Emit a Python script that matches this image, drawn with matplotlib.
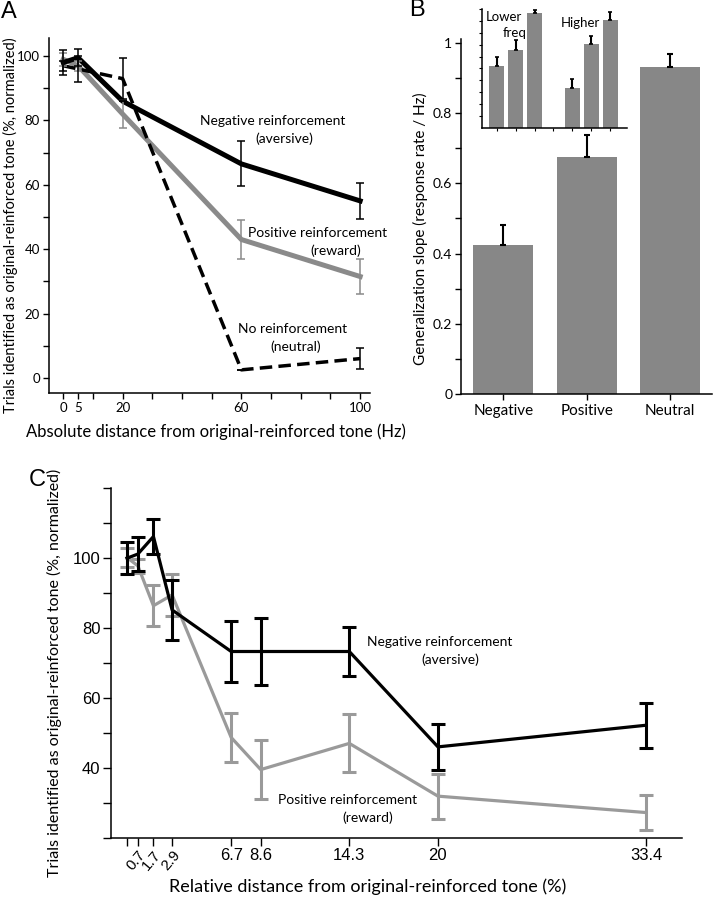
import matplotlib
matplotlib.use('Agg')
import matplotlib.pyplot as plt

plt.rcParams['font.family'] = ['Lato', 'DejaVu Sans']
plt.rcParams['axes.linewidth'] = 1.1
narrow = ['Liberation Sans Narrow', 'Liberation Sans', 'DejaVu Sans']

# panel A: absolute distance (Hz)
a_x = [0, 5, 20, 60, 100]
a_neg = [98, 99.5, 86, 66.5, 55]
a_neg_err = [4, 2.7, 0, 7, 5.5]
a_pos = [99, 97, 82, 43, 31.5]
a_pos_err = [2, 1.5, 4.5, 6, 5.5]
a_neu = [97, 96, 93, 2.5, 6]
a_neu_err = [1.5, 4, 6.3, 0, 3.2]
a_ticks = [0, 5, 10, 20, 30, 40, 50, 60, 70, 80, 90, 100]
a_ticklabels = ['0', '5', '', '20', '', '', '', '60', '', '', '', '100']

# panel B: generalization slope
b_cats = ['Negative', 'Positive', 'Neutral']
b_vals = [0.425, 0.674, 0.932]
b_err = [0.055, 0.064, 0.037]

# inset: lower / higher frequency slopes (arbitrary units)
ins_x = [0, 1, 2, 4, 5, 6]
ins_vals = [5.21, 6.56, 9.71, 3.38, 7.07, 9.10]
ins_err = [0.79, 0.85, 0.23, 0.70, 0.67, 0.64]

# panel C: relative distance (%)
c_x = [0, 0.7, 1.7, 2.9, 6.7, 8.6, 14.3, 20, 33.4]
c_ticklabels = ['', '0.7', '1.7', '2.9', '6.7', '8.6', '14.3', '20', '33.4']
c_neg = [100, 101.2, 106.2, 85.2, 73.3, 73.3, 73.3, 46.0, 52.2]
c_neg_err = [4.6, 4.9, 4.9, 8.5, 8.7, 9.6, 6.9, 6.6, 6.4]
c_pos = [100.2, 97.8, 86.4, 89.5, 48.7, 39.5, 47.0, 31.9, 27.2]
c_pos_err = [2.8, 2.0, 5.9, 6.1, 6.9, 8.4, 8.3, 6.4, 4.9]

GRAY_A = '#8a8a8a'
GRAY_C = '#9a9a9a'
BAR = '#878787'

fig = plt.figure(figsize=(7.17, 9), dpi=100)


def clean(ax):
    ax.spines['top'].set_visible(False)
    ax.spines['right'].set_visible(False)


# ---------------- A ----------------
axA = fig.add_axes([0.0683, 0.5633, 0.4477, 0.3944])
clean(axA)
axA.plot(a_x, a_pos, color=GRAY_A, lw=3.6, zorder=2)
axA.errorbar(a_x, a_pos, yerr=a_pos_err, fmt='none', ecolor=GRAY_A, elinewidth=1.1, capsize=3, capthick=1.1, zorder=3)
axA.plot(a_x, a_neu, color='black', lw=2.5, dashes=(3.6, 1.8), zorder=2)
axA.errorbar(a_x, a_neu, yerr=a_neu_err, fmt='none', ecolor='black', elinewidth=1.1, capsize=3, capthick=1.1, zorder=3)
axA.plot(a_x, a_neg, color='black', lw=3.6, zorder=2)
axA.errorbar(a_x, a_neg, yerr=a_neg_err, fmt='none', ecolor='black', elinewidth=1.1, capsize=3, capthick=1.1, zorder=3)
axA.set_xlim(-4.8, 103.3)
axA.set_ylim(-4.7, 105.6)
axA.set_xticks(a_ticks, a_ticklabels)
axA.set_yticks(range(0, 101, 20))
axA.set_yticks(range(0, 101, 10), minor=True)
axA.tick_params(which='both', direction='out', length=4.5, width=1, labelsize=9.5, pad=2)
axA.text(70.6, 79.8, 'Negative reinforcement', ha='center', va='center', fontsize=10)
axA.text(74.3, 74.2, '(aversive)', ha='center', va='center', fontsize=10)
axA.text(85.6, 45.0, 'Positive reinforcement', ha='center', va='center', fontsize=10)
axA.text(91.8, 39.5, '(reward)', ha='center', va='center', fontsize=10)
axA.text(77.4, 15.2, 'No reinforcement', ha='center', va='center', fontsize=10)
axA.text(78.4, 9.6, '(neutral)', ha='center', va='center', fontsize=10)
axA.text(0.52, -0.108, 'Absolute distance from original-reinforced tone (Hz)', transform=axA.transAxes,
         ha='center', va='center', fontsize=12)
axA.text(-0.121, 0.473, 'Trials identified as original-reinforced tone (%, normalized)', transform=axA.transAxes,
         ha='center', va='center', rotation=90, fontsize=10.5)

# ---------------- B ----------------
axB = fig.add_axes([0.6425, 0.5622, 0.35, 0.394])
clean(axB)
xb = range(len(b_cats))
axB.bar(xb, b_vals, width=0.72, color=BAR, zorder=2)
axB.errorbar(xb, b_vals, yerr=[[0] * 3, b_err], fmt='none', ecolor='black', elinewidth=1.5, capsize=2.2, capthick=1.5, zorder=3)
axB.set_xlim(-0.51, 2.5)
axB.set_ylim(0, 1.01)
axB.set_xticks(list(xb), b_cats)
axB.set_yticks([0, 0.2, 0.4, 0.6, 0.8, 1.0], ['0', '0.2', '0.4', '0.6', '0.8', '1'])
axB.set_yticks([0.1, 0.3, 0.5, 0.7, 0.9], minor=True)
axB.tick_params(which='both', direction='out', length=4, width=1, labelsize=10, pad=2)
axB.tick_params(axis='x', labelsize=11, pad=3)
axB.text(-0.162, 0.465, 'Generalization slope (response rate / Hz)', transform=axB.transAxes,
         ha='center', va='center', rotation=90, fontsize=11)

# inset
axI = fig.add_axes([0.6727, 0.8581, 0.2014, 0.1316])
clean(axI)
axI.bar(ins_x, ins_vals, width=0.79, color=BAR, zorder=2)
axI.errorbar(ins_x, ins_vals, yerr=[[0] * 6, ins_err], fmt='none', ecolor='black', elinewidth=1.5, capsize=1.5, capthick=1.2, zorder=3)
axI.set_xlim(-0.76, 6.87)
axI.set_ylim(0, 10)
axI.set_xticks(range(7), [''] * 7)
axI.set_yticks(range(1, 11), [''] * 10)
axI.tick_params(which='both', direction='out', length=2.5, width=0.8)
axI.text(0.39, 9.32, 'Lower', ha='center', va='center', fontsize=9.5)
axI.text(0.95, 7.97, 'freq', ha='center', va='center', fontsize=9.5)
axI.text(4.41, 8.82, 'Higher', ha='center', va='center', fontsize=9.5)

# ---------------- C ----------------
axC = fig.add_axes([0.1548, 0.0692, 0.7964, 0.3882])
clean(axC)
axC.plot(c_x, c_pos, color=GRAY_C, lw=2.3, zorder=2)
axC.errorbar(c_x, c_pos, yerr=c_pos_err, fmt='none', ecolor=GRAY_C, elinewidth=2.2, capsize=5, capthick=2.2, zorder=2)
axC.plot(c_x, c_neg, color='black', lw=2.3, zorder=3)
axC.errorbar(c_x, c_neg, yerr=c_neg_err, fmt='none', ecolor='black', elinewidth=2.2, capsize=5, capthick=2.2, zorder=3)
axC.set_xlim(-1.03, 35.7)
axC.set_ylim(20, 120)
axC.set_xticks(c_x, c_ticklabels)
axC.set_yticks(range(20, 121, 10), ['', '', '40', '', '60', '', '80', '', '100', '', ''])
axC.tick_params(which='both', direction='out', length=5.5, width=1, labelsize=12, pad=2)
for lbl in axC.get_xticklabels() + axC.get_yticklabels():
    lbl.set_family(narrow)
for lbl in axC.get_xticklabels()[1:4]:
    lbl.set_rotation(50)
    lbl.set_fontsize(11)
    lbl.set_ha('right')
    lbl.set_rotation_mode('anchor')
axC.text(20.1, 76.0, 'Negative reinforcement', ha='center', va='center', fontsize=10)
axC.text(20.8, 70.9, '(aversive)', ha='center', va='center', fontsize=10)
axC.text(14.2, 30.8, 'Positive reinforcement', ha='center', va='center', fontsize=10)
axC.text(15.5, 25.6, '(reward)', ha='center', va='center', fontsize=10)
axC.text(0.45, -0.141, 'Relative distance from original-reinforced tone (%)', transform=axC.transAxes,
         ha='center', va='center', fontsize=13)
axC.text(-0.0998, 0.471, 'Trials identified as original-reinforced tone (%, normalized)', transform=axC.transAxes,
         ha='center', va='center', rotation=90, fontsize=11.5)

# panel letters
fig.text(8.5 / 717, 1 - 11.5 / 900, 'A', ha='center', va='center', fontsize=17, family='Liberation Sans')
fig.text(417 / 717, 1 - 10 / 900, 'B', ha='center', va='center', fontsize=17, family='Liberation Sans')
fig.text(37 / 717, 1 - 480 / 900, 'C', ha='center', va='center', fontsize=17, family='Liberation Sans')

fig.savefig('out.png', dpi=100)
